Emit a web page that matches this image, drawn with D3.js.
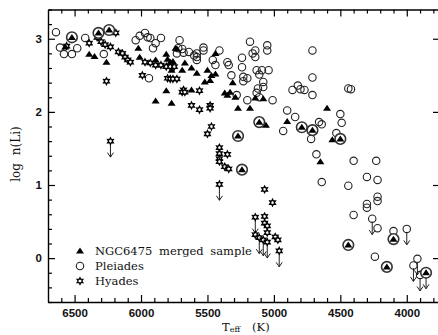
<!DOCTYPE html>
<html><head><meta charset="utf-8">
<script src="https://cdn.jsdelivr.net/npm/d3@7"></script>
<style>html,body{margin:0;padding:0;background:#fff;}svg{display:block;}</style>
</head><body>
<svg id="c" width="438" height="335"></svg>
<script>
// ---- data: [Teff (K), log n(Li)] ----
const pleiades = [[6640,3.09],[6610,2.88],[6580,2.79],[6520,2.79],[6480,2.87],[6420,3.01],[6280,2.79],
[6040,2.98],[6010,3.04],[5970,3.08],[5930,3.01],[5890,2.94],[5850,3.01],[5940,2.46],[5950,3.02],[5910,2.87],
[5710,2.98],[5730,2.80],[5680,2.81],[5580,2.80],[5580,2.75],[5580,2.71],[5530,2.88],[5530,2.84],[5410,2.84],
[5460,2.71],[5440,2.64],[5350,2.68],[5340,2.64],[5320,2.50],[5240,2.74],[5240,2.61],[5230,2.48],[5230,2.42],
[5200,2.46],[5180,2.96],[5160,2.80],[5140,2.75],[5140,2.84],[5050,2.91],[5050,2.84],[5130,2.57],[5090,2.57],
[5040,2.57],[5110,2.51],[5080,2.41],[5120,2.32],[5080,2.34],[5130,2.26],[5110,2.20],[5280,2.23],[5200,2.16],
[5010,2.16],[4900,2.02],[4710,2.84],[4710,2.47],[4820,2.36],[4860,2.30],[4800,2.31],[4770,2.30],[4710,2.23],
[4440,2.32],[4420,2.31],[4840,1.93],[4500,1.97],[4660,1.86],[4640,1.83],[4490,1.85],[4530,1.71],[4720,1.63],
[4680,1.42],[4400,1.33],[4230,1.33],[4640,1.04],[4440,0.99],[4300,1.11],[4220,1.07],[4220,0.84],[4220,0.78],
[4300,0.74],[4300,0.69],[4400,0.59],[4220,0.41],[4100,0.37],[4240,0.02],[4930,1.74],
[5720,2.87],[5690,2.86],[5640,2.82],[5600,2.77]];
const pleiadesUpper = [[4260,0.54],[4000,0.40],[3950,-0.10],[3920,-0.01],[3900,-0.23]];
const ngc6475 = [[6570,2.89],[6390,2.79],[6350,2.76],[6260,2.68],[6020,2.87],[6010,2.75],[5890,2.71],[5890,2.15],
[5810,2.79],[5810,2.29],[5770,2.12],[5800,2.72],[5780,2.68],[5760,2.69],[5730,2.86],[5740,2.87],[5770,2.57],
[5690,2.57],[5670,2.67],[5620,2.60],[5580,2.53],[5500,2.57],[5470,2.50],[5440,2.52],[5480,2.43],[5520,2.41],
[5620,2.30],[5440,2.80],[5370,2.26],[5350,2.23],[5330,2.27],[5290,2.20],[5310,2.40],[5270,2.05],[5180,2.05],
[5140,2.19],[5080,2.18],[5060,1.82],[4900,1.87],[4600,2.05],[4560,1.62],[4650,1.32]];
const ngc6475Circled = [[6520,3.02],[6320,3.08],[6240,3.12],[5270,1.67],[5240,1.21],[5110,1.86],[4790,1.79],
[4710,1.75],[4500,1.63],[4440,0.18],[4150,-0.12],[4100,0.26]];
const ngc6475CircledUpper = [[3855,-0.20]];
const hyades = [[6560,2.90],[6390,2.94],[6330,3.02],[6300,2.96],[6270,2.92],[6230,2.89],[6190,3.08],[6170,2.82],
[6140,2.80],[6120,2.75],[6100,2.71],[6080,2.68],[6260,2.42],[5990,2.50],[5970,2.68],[5930,2.67],[5890,2.64],
[5850,2.64],[5810,2.62],[5780,2.62],[5750,2.62],[5800,2.46],[5780,2.45],[5760,2.45],[5730,2.45],[5680,2.30],
[5690,2.27],[5670,2.27],[5560,2.29],[5620,2.09],[5560,2.03],[5480,2.09],[5480,2.05],[5470,1.80],[5500,1.70],
[5410,1.51],[5410,1.43],[5410,1.36],[5410,1.32],[5350,1.42],[5370,1.25],[5340,1.22],[5070,0.94],[5010,0.76],
[5070,0.57],[5070,0.48],[5050,0.44],[5050,0.35],[4990,0.29],[4970,0.25],[5140,0.32]];
const hyadesUpper = [[6230,1.60],[5410,1.01],[5140,0.56],[5110,0.28],[5080,0.25],[5050,0.22],[4960,0.10]];
const xTicks = [6500,6000,5500,5000,4500,4000];
const yTicks = [0,1,2,3];
const legendLabels = ["NGC6475 merged sample","Pleiades","Hyades"];

// ---- scales ----
const svg = d3.select("#c");
const x = d3.scaleLinear().domain([6700,3750]).range([48,440]);
const y = d3.scaleLinear().domain([-0.6,3.4]).range([302,9.5]);
const [X0,X1] = x.range(), [Y0,Y1] = y.range();

const xMinor = d3.range(3800,6700,100).filter(v=>!xTicks.includes(v));
const yMinor = d3.range(-0.6,3.41,0.2).map(v=>+v.toFixed(1)).filter(v=>!yTicks.includes(v));

function styleAxis(g){ g.selectAll("path.domain").attr("stroke","#000").attr("stroke-width",1.4);
  g.selectAll(".tick line").attr("stroke","#000").attr("stroke-width",1.2); }
const tickFont = g=>g.selectAll("text").attr("font-family","Liberation Sans, Arial, sans-serif")
     .attr("font-size",11.5).attr("font-weight","bold").attr("fill","#111");

// bottom
svg.append("g").attr("transform",`translate(0,${Y0})`)
  .call(d3.axisBottom(x).tickValues(xTicks).tickSize(-7).tickSizeOuter(0).tickPadding(7).tickFormat(d3.format("d")))
  .call(styleAxis).call(tickFont);
svg.append("g").attr("transform",`translate(0,${Y0})`)
  .call(d3.axisBottom(x).tickValues(xMinor).tickSize(-4).tickSizeOuter(0).tickFormat(""))
  .call(styleAxis).call(g=>g.select("path.domain").remove());
// top
svg.append("g").attr("transform",`translate(0,${Y1})`)
  .call(d3.axisTop(x).tickValues(xTicks).tickSize(-7).tickSizeOuter(0).tickFormat("")).call(styleAxis);
svg.append("g").attr("transform",`translate(0,${Y1})`)
  .call(d3.axisTop(x).tickValues(xMinor).tickSize(-4).tickSizeOuter(0).tickFormat(""))
  .call(styleAxis).call(g=>g.select("path.domain").remove());
// left
svg.append("g").attr("transform",`translate(${X0},0)`)
  .call(d3.axisLeft(y).tickValues(yTicks).tickSize(-7).tickSizeOuter(0).tickPadding(6).tickFormat(d3.format("d")))
  .call(styleAxis).call(tickFont);
svg.append("g").attr("transform",`translate(${X0},0)`)
  .call(d3.axisLeft(y).tickValues(yMinor).tickSize(-4).tickSizeOuter(0).tickFormat(""))
  .call(styleAxis).call(g=>g.select("path.domain").remove());
// right
svg.append("g").attr("transform",`translate(${X1},0)`)
  .call(d3.axisRight(y).tickValues(yTicks).tickSize(-7).tickSizeOuter(0).tickFormat("")).call(styleAxis);

// ---- symbols ----
const triPath = "M0,-3.4L4,2.6L-4,2.6Z";
const starPath = (()=>{ const p=[]; for(let k=0;k<12;k++){ const r=k%2?1.8:3.3, a=k*Math.PI/6-Math.PI/2;
  p.push([r*Math.cos(a), r*Math.sin(a)]);} return "M"+p.map(q=>q[0].toFixed(2)+","+q[1].toFixed(2)).join("L")+"Z"; })();

function arrows(g,data){
  const a=g.selectAll(null).data(data).enter().append("g")
    .attr("transform",d=>`translate(${x(d[0])},${y(d[1])})`)
    .attr("fill","none").attr("stroke","#222").attr("stroke-width",1);
  a.append("path").attr("d","M0,3L0,16M-3,11.5L0,16L3,11.5");
}
const plot = svg.append("g");
function circles(data){ plot.selectAll(null).data(data).enter().append("circle")
  .attr("cx",d=>x(d[0])).attr("cy",d=>y(d[1])).attr("r",3.7)
  .attr("fill","none").attr("stroke","#222").attr("stroke-width",1.1); }
function triangles(data){ plot.selectAll(null).data(data).enter().append("path").attr("d",triPath)
  .attr("transform",d=>`translate(${x(d[0])},${y(d[1])})`).attr("fill","#000"); }
function stars(data){ plot.selectAll(null).data(data).enter().append("path").attr("d",starPath)
  .attr("transform",d=>`translate(${x(d[0])},${y(d[1])})`).attr("fill","#fff").attr("stroke","#000").attr("stroke-width",1.3); }
function circled(data){
  plot.selectAll(null).data(data).enter().append("circle").attr("cx",d=>x(d[0])).attr("cy",d=>y(d[1]))
    .attr("r",5.3).attr("fill","#fff").attr("stroke","#333").attr("stroke-width",1.6);
  triangles(data);
}

arrows(plot,pleiadesUpper); arrows(plot,hyadesUpper); arrows(plot,ngc6475CircledUpper);
circles(pleiades); circles(pleiadesUpper);
stars(hyades); stars(hyadesUpper);
triangles(ngc6475);
circled(ngc6475Circled); circled(ngc6475CircledUpper);

// ---- legend ----
const leg = svg.append("g");
const legY = [251,266,281];
leg.append("path").attr("d",triPath).attr("transform",`translate(80,${legY[0]})`).attr("fill","#000");
leg.append("circle").attr("cx",80).attr("cy",legY[1]).attr("r",3.7).attr("fill","none").attr("stroke","#222").attr("stroke-width",1.1);
leg.append("path").attr("d",starPath).attr("transform",`translate(80,${legY[2]})`).attr("fill","#fff").attr("stroke","#000").attr("stroke-width",1.3);
leg.selectAll("text").data(legendLabels).enter().append("text")
  .attr("x",95).attr("y",(d,i)=>legY[i]+4).text(d=>d)
  .attr("font-family","DejaVu Serif, serif").attr("font-size",11.5).attr("word-spacing",3).attr("fill","#111");

// ---- axis titles ----
const xt = svg.append("text").attr("x",222).attr("y",330.5).attr("font-family","DejaVu Serif, serif")
  .attr("font-size",11.5).attr("fill","#111");
xt.append("tspan").text("T");
xt.append("tspan").attr("font-size",8).attr("dy",1.5).text("eff");
xt.append("tspan").attr("dy",-1.5).attr("dx",12).text("(K)");
svg.append("text").attr("transform","translate(20,154) rotate(-90)").attr("text-anchor","middle")
  .attr("font-family","DejaVu Serif, serif").attr("font-size",12).attr("word-spacing",4).attr("fill","#111")
  .text("log n(Li)");
</script>
</body></html>
